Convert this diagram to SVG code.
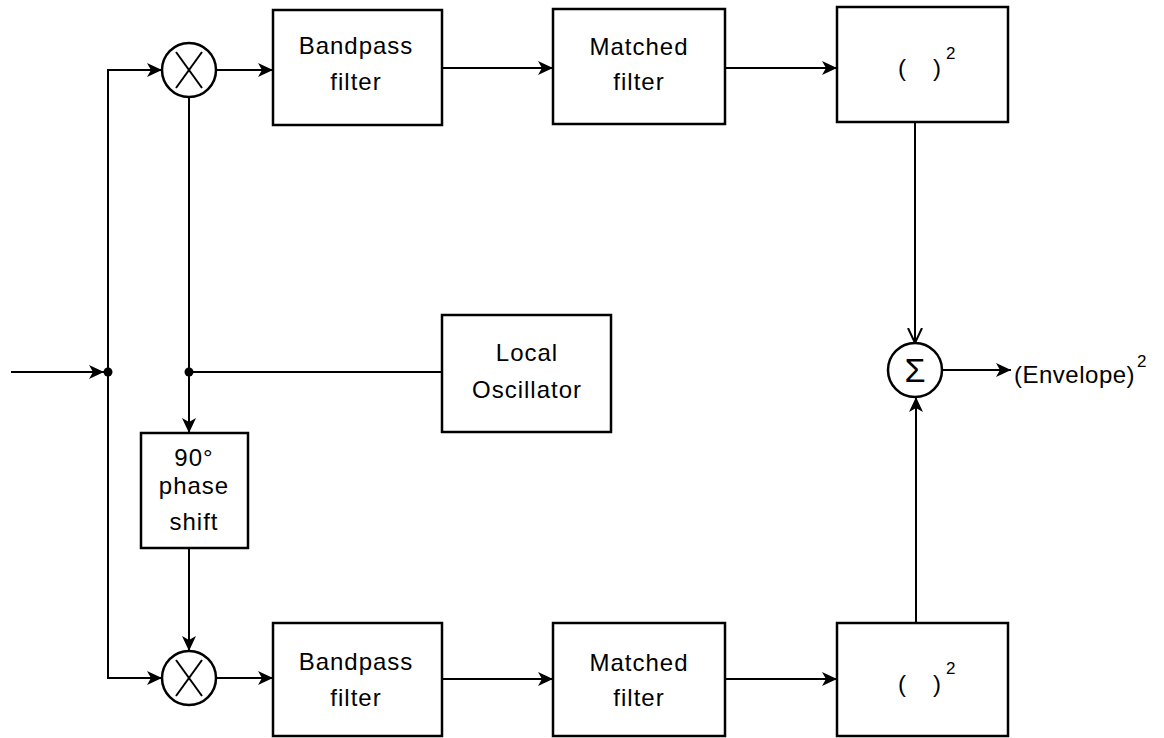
<svg xmlns="http://www.w3.org/2000/svg" width="1164" height="738" viewBox="0 0 1164 738">
<style>
.box{fill:#fff;stroke:#000;stroke-width:2.5}
.ln{fill:none;stroke:#000;stroke-width:2}
.t{font-family:"Liberation Sans",Arial,sans-serif;font-size:24px;fill:#000;text-anchor:middle;letter-spacing:1px}
.p{font-family:"Liberation Sans",Arial,sans-serif;font-size:24px;fill:#000;text-anchor:middle}
.sup{font-family:"Liberation Sans",Arial,sans-serif;font-size:17px;fill:#000}
</style>
<defs>
<marker id="ah" markerWidth="16" markerHeight="14" refX="15" refY="7" orient="auto" markerUnits="userSpaceOnUse">
<path d="M0,0 L15,7 L0,14 L4,7 z" fill="#000"/>
</marker>
<marker id="av" markerWidth="16" markerHeight="16" refX="15" refY="8" orient="auto" markerUnits="userSpaceOnUse">
<path d="M0,1 L15,8 L0,15" fill="none" stroke="#000" stroke-width="2"/>
</marker>
</defs>
<rect width="1164" height="738" fill="#fff"/>

<g id="connectors">
<line class="ln" x1="11" y1="372" x2="104" y2="372" marker-end="url(#ah)"/>
<polyline class="ln" points="108,678 108,70 162,70" marker-end="url(#ah)"/>
<polyline class="ln" points="108,372 108,678 162,678" marker-end="url(#ah)"/>
<line class="ln" x1="189" y1="97" x2="189" y2="433" marker-end="url(#ah)"/>
<line class="ln" x1="189" y1="372" x2="442" y2="372"/>
<line class="ln" x1="189" y1="548" x2="189" y2="651" marker-end="url(#ah)"/>
<line class="ln" x1="216" y1="70" x2="273" y2="70" marker-end="url(#ah)"/>
<line class="ln" x1="442" y1="68" x2="553" y2="68" marker-end="url(#ah)"/>
<line class="ln" x1="725" y1="68" x2="837" y2="68" marker-end="url(#ah)"/>
<line class="ln" x1="216" y1="678" x2="273" y2="678" marker-end="url(#ah)"/>
<line class="ln" x1="442" y1="679" x2="553" y2="679" marker-end="url(#ah)"/>
<line class="ln" x1="725" y1="679" x2="837" y2="679" marker-end="url(#ah)"/>
<line class="ln" x1="915" y1="122" x2="915" y2="343" marker-end="url(#av)"/>
<line class="ln" x1="916" y1="623" x2="916" y2="397" marker-end="url(#ah)"/>
<line class="ln" x1="942" y1="370" x2="1011" y2="370" marker-end="url(#ah)"/>
<circle cx="108" cy="372" r="4.5" fill="#000"/>
<circle cx="189" cy="372" r="4.5" fill="#000"/>
</g>

<g id="mult-top">
<circle class="box" cx="189" cy="70" r="27"/>
<line class="ln" x1="176" y1="52" x2="202" y2="88"/>
<line class="ln" x1="202" y1="52" x2="176" y2="88"/>
</g>
<g id="mult-bottom">
<circle class="box" cx="189" cy="678" r="27"/>
<line class="ln" x1="176" y1="660" x2="202" y2="696"/>
<line class="ln" x1="202" y1="660" x2="176" y2="696"/>
</g>

<g id="bpf-top">
<rect class="box" x="273" y="10" width="169" height="115"/>
<text class="t" x="356" y="54">Bandpass</text>
<text class="t" x="356" y="90">filter</text>
</g>
<g id="mf-top">
<rect class="box" x="553" y="9" width="172" height="115"/>
<text class="t" x="639" y="55">Matched</text>
<text class="t" x="639" y="90">filter</text>
</g>
<g id="sq-top">
<rect class="box" x="837" y="7" width="171" height="115"/>
<text class="p" x="902" y="76">(</text>
<text class="p" x="937" y="76">)</text>
<text class="sup" x="946" y="59">2</text>
</g>

<g id="bpf-bottom">
<rect class="box" x="273" y="623" width="169" height="113"/>
<text class="t" x="356" y="670">Bandpass</text>
<text class="t" x="356" y="706">filter</text>
</g>
<g id="mf-bottom">
<rect class="box" x="553" y="623" width="172" height="113"/>
<text class="t" x="639" y="671">Matched</text>
<text class="t" x="639" y="706">filter</text>
</g>
<g id="sq-bottom">
<rect class="box" x="837" y="623" width="171" height="113"/>
<text class="p" x="902" y="692">(</text>
<text class="p" x="937" y="692">)</text>
<text class="sup" x="946" y="674">2</text>
</g>

<g id="local-osc">
<rect class="box" x="442" y="315" width="169" height="117"/>
<text class="t" x="527" y="361">Local</text>
<text class="t" x="527" y="398">Oscillator</text>
</g>

<g id="phase-shift">
<rect class="box" x="141" y="433" width="107" height="115"/>
<text class="t" x="194" y="466">90°</text>
<text class="t" x="194" y="494">phase</text>
<text class="t" x="194" y="530">shift</text>
</g>

<g id="sum">
<circle class="box" cx="915" cy="370" r="27"/>
<text class="p" x="915" y="382" style="font-size:34px">Σ</text>
</g>

<g id="output-label">
<text class="p" x="1014" y="383" style="text-anchor:start;letter-spacing:0.5px">(Envelope)</text>
<text class="sup" x="1137" y="367">2</text>
</g>
</svg>
